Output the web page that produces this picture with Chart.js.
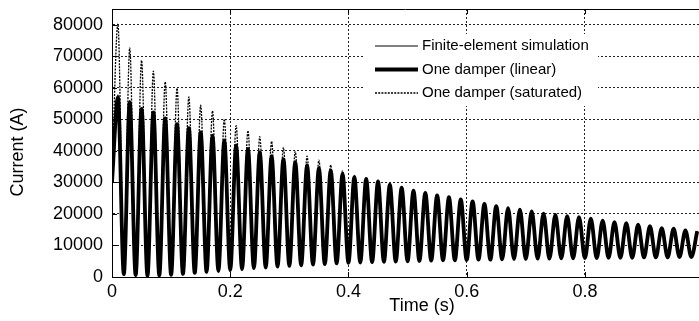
<!DOCTYPE html>
<html>
<head>
<meta charset="utf-8">
<script src="https://cdn.jsdelivr.net/npm/chart.js@4/dist/chart.umd.min.js"></script>
<style>
html,body{margin:0;padding:0;background:#fff;overflow:hidden}
#wrap{width:699px;height:321px;position:relative}
</style>
</head>
<body>
<div id="wrap"><canvas id="c" width="699" height="321"></canvas></div>
<script>
// ---- data (time in s, current in A) ----
const time = [0,0.01,0.02,0.03,0.04,0.05,0.06,0.07,0.08,0.09,
  0.10,0.11,0.12,0.13,0.14,0.15,0.16,0.17,0.18,0.19,
  0.20,0.21,0.22,0.23,0.24,0.25,0.26,0.27,0.28,0.29,
  0.30,0.31,0.32,0.33,0.34,0.35,0.36,0.37,0.38,0.39,
  0.40,0.41,0.42,0.43,0.44,0.45,0.46,0.47,0.48,0.49,
  0.50,0.51,0.52,0.53,0.54,0.55,0.56,0.57,0.58,0.59,
  0.60,0.61,0.62,0.63,0.64,0.65,0.66,0.67,0.68,0.69,
  0.70,0.71,0.72,0.73,0.74,0.75,0.76,0.77,0.78,0.79,
  0.80,0.81,0.82,0.83,0.84,0.85,0.86,0.87,0.88,0.89,
  0.90,0.91,0.92,0.93,0.94,0.95,0.96,0.97,0.98,0.99];

const feSimulation = [30000,57800,900,56000,600,53800,400,52600,500,50700,
  700,48800,1000,47500,1300,46100,1600,45000,1900,43500,
  2200,41900,2500,40700,2800,39700,3000,38400,3300,37500,
  3500,36500,3700,35500,3900,34600,4100,33900,4300,32800,
  4500,31800,4600,31100,4700,30300,4800,29300,4900,28300,
  5000,27400,5100,26700,5200,25900,5300,25300,5300,24600,
  5400,24000,5500,23200,5500,22500,5600,21800,5700,21400,
  5700,20800,5800,20100,5800,19700,5900,19300,5900,19000,
  6000,18500,6000,17900,6100,17400,6100,17100,6100,16600,
  6200,16100,6200,15500,6200,15300,6300,14800,6300,14500];

const linearDamper = [30000,57000,900,55400,600,53300,400,52200,500,50300,
  700,48500,1000,47200,1300,45900,1600,44800,1900,43300,
  2200,41700,2500,40600,2800,39600,3000,38300,3300,37400,
  3500,36400,3700,35400,3900,34500,4100,33800,4300,32700,
  4500,31700,4600,31100,4700,30300,4800,29300,4900,28300,
  5000,27400,5100,26700,5200,25900,5300,25300,5300,24600,
  5400,24000,5500,23200,5500,22500,5600,21800,5700,21400,
  5700,20800,5800,20100,5800,19700,5900,19300,5900,19000,
  6000,18500,6000,17900,6100,17400,6100,17100,6100,16600,
  6200,16100,6200,15500,6200,15300,6300,14800,6300,14500];

const saturatedDamper = [32000,80300,700,72700,400,68700,300,65300,400,61900,
  600,59900,900,57100,1200,54500,1500,52700,1800,50100,
  2100,48000,2400,46400,2700,44500,2900,43000,3200,41100,
  3500,39800,3700,38300,3900,37100,4100,35500,4300,33700,
  4500,32300,4600,31400,4700,30500,4800,29400,4900,28400,
  5000,27500,5100,26800,5200,26000,5300,25400,5300,24700,
  5400,24100,5500,23300,5500,22600,5600,21900,5700,21500,
  5700,20900,5800,20200,5800,19800,5900,19400,5900,19100,
  6000,18600,6000,18000,6100,17500,6100,17200,6100,16700,
  6200,16200,6200,15600,6200,15400,6300,14900,6300,14600];

const seriesLabels = ['Finite-element simulation','One damper (linear)','One damper (saturated)'];
const xTicks = [0,0.2,0.4,0.6,0.8];
const yTicks = [0,10000,20000,30000,40000,50000,60000,70000,80000];
const xTitle = 'Time (s)';
const yTitle = 'Current (A)';

// ---- build chart ----
const FONT = "'Liberation Sans', Arial, sans-serif";
const pts = arr => time.map((t,i)=>({x:t,y:arr[i]}));

const decorPlugin = {
  id:'decor',
  afterDraw(chart){
    const {ctx, chartArea:a, scales} = chart;
    ctx.save();
    ctx.strokeStyle='#000'; ctx.lineWidth=1; ctx.setLineDash([]);
    ctx.beginPath(); ctx.moveTo(a.left, Math.round(a.top)+0.5); ctx.lineTo(a.right, Math.round(a.top)+0.5); ctx.stroke();
    const tl=5;
    ctx.beginPath();
    xTicks.forEach(v=>{
      const px=Math.round(scales.x.getPixelForValue(v))+0.5;
      ctx.moveTo(px,a.bottom); ctx.lineTo(px,a.bottom-tl);
      ctx.moveTo(px,a.top); ctx.lineTo(px,a.top+tl);
    });
    yTicks.forEach(v=>{
      const py=Math.round(scales.y.getPixelForValue(v))+0.5;
      ctx.moveTo(a.left,py); ctx.lineTo(a.left+tl,py);
    });
    ctx.stroke();
    ctx.fillStyle='#000';
    ctx.font='18px '+FONT;
    ctx.textAlign='center'; ctx.textBaseline='middle';
    ctx.fillText(xTitle, 422, 306);
    ctx.translate(18, 152); ctx.rotate(-Math.PI/2);
    ctx.fillText(yTitle, 0, 0);
    ctx.restore();
  },
  beforeDatasetsDraw(chart){
    const {ctx} = chart;
    ctx.save();
    ctx.fillStyle='#fff';
    ctx.fillRect(364, 34, 234, 72);
    const rows=[46,69.5,93];
    chart.data.datasets.forEach((ds,i)=>{
      const y=rows[i];
      ctx.strokeStyle=ds.borderColor; ctx.lineWidth=ds.borderWidth;
      ctx.setLineDash(ds.borderDash||[]);
      ctx.beginPath(); ctx.moveTo(375,y); ctx.lineTo(418,y); ctx.stroke();
      ctx.setLineDash([]);
      ctx.fillStyle='#000'; ctx.font='15px '+FONT;
      ctx.textAlign='left'; ctx.textBaseline='middle';
      ctx.fillText(ds.label, 422, y);
    });
    ctx.restore();
  }
};

new Chart(document.getElementById('c'), {
  type:'line',
  data:{
    datasets:[
      {label:seriesLabels[0], data:pts(feSimulation), borderColor:'#000', borderWidth:1},
      {label:seriesLabels[1], data:pts(linearDamper), borderColor:'#000', borderWidth:3.8},
      {label:seriesLabels[2], data:pts(saturatedDamper), borderColor:'#000', borderWidth:1.3, borderDash:[2,1.2]}
    ]
  },
  options:{
    responsive:false, animation:false, devicePixelRatio:1,
    events:[],
    layout:{padding:{left:0,right:0,top:9,bottom:0}},
    elements:{point:{radius:0}, line:{cubicInterpolationMode:'monotone', fill:false}},
    plugins:{legend:{display:false}, tooltip:{enabled:false}, title:{display:false}},
    scales:{
      x:{
        type:'linear', min:0, max:0.993,
        afterBuildTicks:s=>{s.ticks=xTicks.map(v=>({value:v}));},
        afterFit:s=>{s.height=44; s.paddingLeft=0; s.paddingRight=0;},
        ticks:{color:'#000', font:{family:FONT,size:18}, padding:4, maxRotation:0, autoSkip:false,
               callback:v=>String(v)},
        grid:{color:'#222', lineWidth:1, drawTicks:false},
        border:{display:true, color:'#000', width:1, dash:[2,2]}
      },
      y:{
        type:'linear', min:0, max:85000,
        afterBuildTicks:s=>{s.ticks=yTicks.map(v=>({value:v}));},
        afterFit:s=>{s.width=112; s.paddingTop=0; s.paddingBottom=0;},
        ticks:{color:'#000', font:{family:FONT,size:18}, padding:9, callback:v=>String(v)},
        grid:{color:'#222', lineWidth:1, drawTicks:false},
        border:{display:true, color:'#000', width:1, dash:[2,2]}
      }
    }
  },
  plugins:[decorPlugin]
});
</script>
</body>
</html>
